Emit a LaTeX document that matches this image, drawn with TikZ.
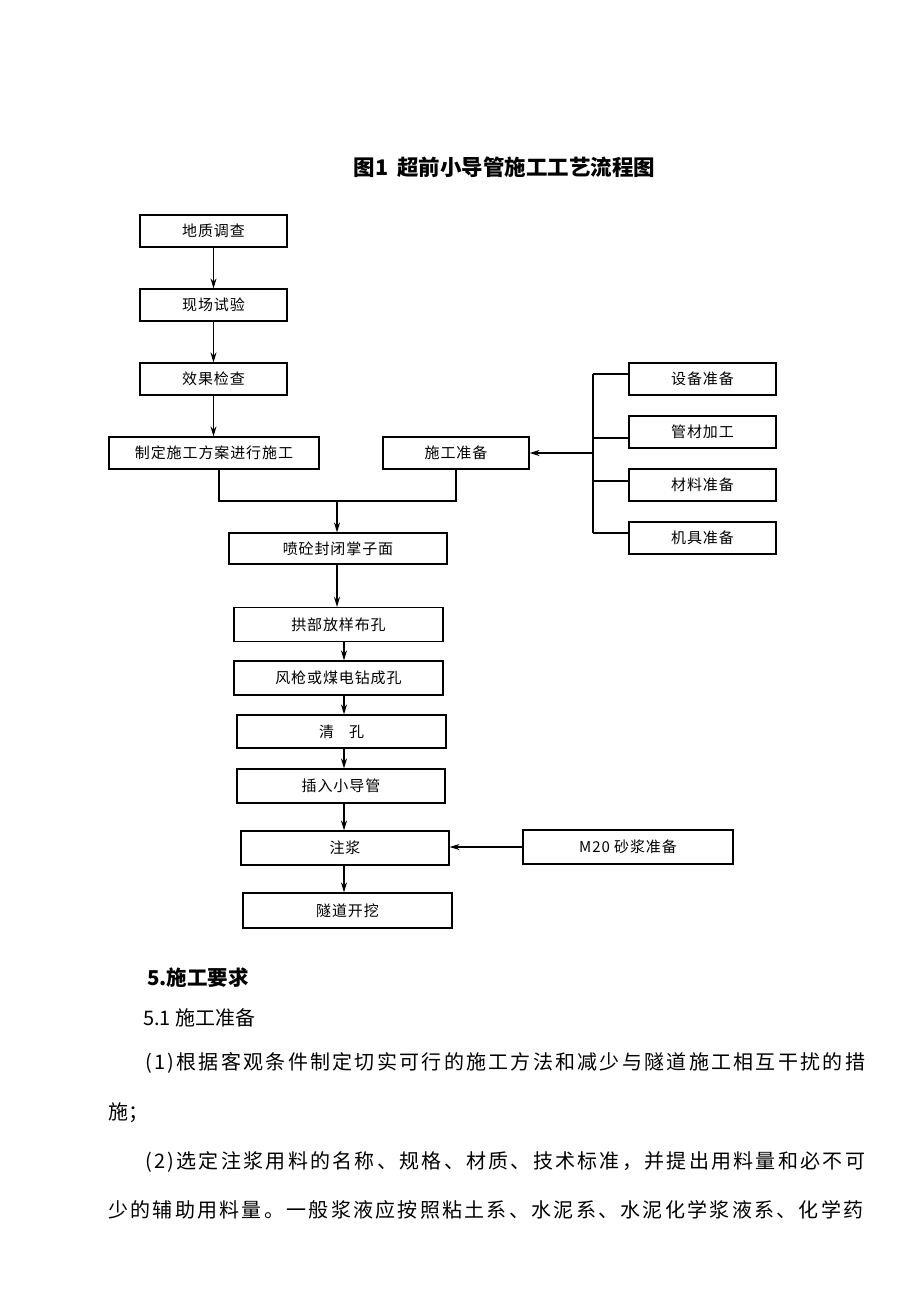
\documentclass[tikz,border=0pt]{standalone}
\usepackage{fontspec}
\setmainfont{Noto Sans CJK SC}
\newfontfamily\boxfont[LetterSpace=6]{Noto Sans CJK SC}
\newfontfamily\widefont[LetterSpace=11.4]{Noto Sans CJK SC}
\usetikzlibrary{arrows.meta, positioning, calc}

\begin{document}
\begin{tikzpicture}[x=1pt, y=-1pt,
        procbox/.style={rectangle, draw=black, line width=1.2pt, inner sep=0pt, minimum height=32pt, font={\boxfont\fontsize{15pt}{18pt}\selectfont}},
        arrow/.style={line width=1.1pt, -{Stealth[length=10pt, width=6pt]}},
        link/.style={line width=1.1pt},
        textline/.style={anchor=west, inner sep=0pt, font={\fontsize{20pt}{24pt}\selectfont}}
    ]
        \path[use as bounding box, fill=white] (0,0) rectangle (920,1302);

        % Title
        \node (title) [font={\bfseries\fontsize{21.5pt}{25pt}\selectfont}] at (504.5,167) {图1\hspace{0.4em}超前小导管施工工艺流程图};

        % Survey steps
        \node (geo) [procbox, minimum width=147pt] at (213.5,231) {地质调查};
        \node (test) [procbox, minimum width=147pt] at (213.5,305) {现场试验};
        \node (check) [procbox, minimum width=147pt] at (213.5,379) {效果检查};
        \node (plan) [procbox, minimum width=210pt] at (214,453) {制定施工方案进行施工};
        \node (prep) [procbox, minimum width=146pt] at (456,453) {施工准备};

        \draw [arrow] (geo) -- (test);
        \draw [arrow] (test) -- (check);
        \draw [arrow] (check.south) -- (check.south |- plan.north);

        % Preparation items
        \node (equip) [procbox, minimum width=147pt] at (702.5,379) {设备准备};
        \node (pipe) [procbox, minimum width=147pt] at (702.5,432) {管材加工};
        \node (mat) [procbox, minimum width=147pt] at (702.5,485) {材料准备};
        \node (tool) [procbox, minimum width=147pt] at (702.5,538) {机具准备};

        \coordinate (jequip) at (593,374);
        \coordinate (jpipe) at (593,438);
        \coordinate (jmat) at (593,481);
        \coordinate (jtool) at (593,533);
        \coordinate (busmid) at (593,453);

        \draw [link] (jequip) -- (jtool);
        \draw [link] (jequip) -- (jequip -| equip.west);
        \draw [link] (jpipe) -- (jpipe -| pipe.west);
        \draw [link] (jmat) -- (jmat -| mat.west);
        \draw [link] (jtool) -- (jtool -| tool.west);
        \draw [arrow, line width=1.6pt] (busmid) -- (prep.east);

        % Merge into main line
        \node (spray) [procbox, minimum width=218pt, minimum height=31pt] at (338,548.5) {喷砼封闭掌子面};
        \coordinate (merge) at (337,501);
        \draw [link] ([xshift=5pt]plan.south) |- (merge) -| (prep.south);
        \draw [arrow] (merge) -- (merge |- spray.north);

        % Pipe installation steps
        \node (arch) [procbox, minimum width=209pt, minimum height=34pt] at (338.5,624.5) {拱部放样布孔};
        \node (drill) [procbox, minimum width=209pt, minimum height=34pt] at (338.5,678) {风枪或煤电钻成孔};
        \node (clean) [procbox, minimum width=209pt, minimum height=33pt] at (341.5,731.5) {清\hspace{1em}孔};
        \node (insert) [procbox, minimum width=208pt, minimum height=34pt] at (341,786) {插入小导管};
        \node (grout) [procbox, minimum width=208pt, minimum height=34pt] at (345,848) {注浆};
        \node (dig) [procbox, minimum width=209pt, minimum height=35pt] at (347.5,910.5) {隧道开挖};
        \node (mortar) [procbox, minimum width=210pt, minimum height=34pt] at (628,847) {M20 砂浆准备};

        \coordinate (spine) at (344,600);
        \draw [arrow] (spray.south -| merge) -- (arch.north -| merge);
        \draw [arrow] (arch.south -| spine) -- (drill.north -| spine);
        \draw [arrow] (drill.south -| spine) -- (clean.north -| spine);
        \draw [arrow] (clean.south -| spine) -- (insert.north -| spine);
        \draw [arrow] (insert.south -| spine) -- (grout.north -| spine);
        \draw [arrow] (grout.south -| spine) -- (dig.north -| spine);
        \draw [arrow] (mortar.west) -- (mortar.west -| grout.east);

        % Text below the chart
        \node (sec) [textline, font={\bfseries\fontsize{20.5pt}{24pt}\selectfont}] at (147,978) {5.施工要求};
        \node (subsec) [textline] at (143,1018) {5.1 施工准备};
        \node (para1) [textline, font={\widefont\fontsize{20pt}{24pt}\selectfont}] at (145,1063) {(1)根据客观条件制定切实可行的施工方法和减少与隧道施工相互干扰的措};
        \node (para1b) [textline] at (108,1113) {施；};
        \node (para2) [textline, font={\widefont\fontsize{20pt}{24pt}\selectfont}] at (145,1162) {(2)选定注浆用料的名称、规格、材质、技术标准，并提出用料量和必不可};
        \node (para2b) [textline, font={\widefont\fontsize{20pt}{24pt}\selectfont}] at (108,1210) {少的辅助用料量。一般浆液应按照粘土系、水泥系、水泥化学浆液系、化学药};
    \end{tikzpicture}
\end{document}
